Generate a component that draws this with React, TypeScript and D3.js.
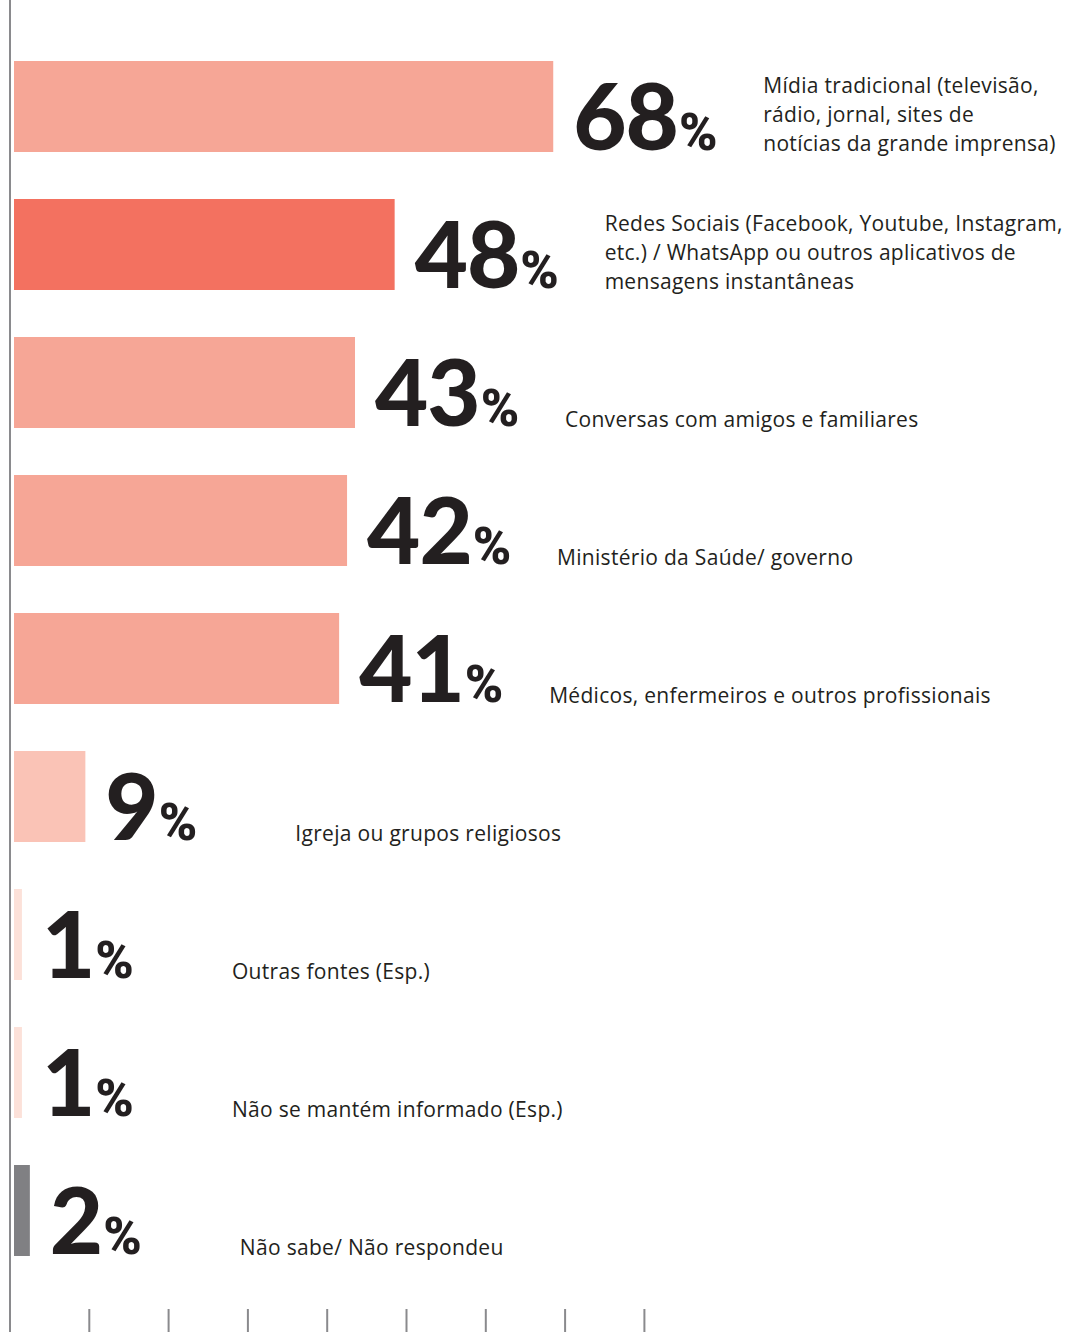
import { useEffect, useRef } from 'react'
import * as d3 from 'd3'

const CATEGORIES = [
  'midia',
  'redes',
  'conversas',
  'ministerio',
  'medicos',
  'igreja',
  'outras',
  'naoInformado',
  'naoSabe',
]

const VALUES = [68, 48, 43, 42, 41, 9, 1, 1, 2]

const LABELS: string[][] = [
  ['Mídia tradicional (televisão,', 'rádio, jornal, sites de', 'notícias da grande imprensa)'],
  ['Redes Sociais (Facebook, Youtube, Instagram,', 'etc.) / WhatsApp ou outros aplicativos de', 'mensagens instantâneas'],
  ['Conversas com amigos e familiares'],
  ['Ministério da Saúde/ governo'],
  ['Médicos, enfermeiros e outros profissionais'],
  ['Igreja ou grupos religiosos'],
  ['Outras fontes (Esp.)'],
  ['Não se mantém informado (Esp.)'],
  ['Não sabe/ Não respondeu'],
]

const TICKS = [10, 20, 30, 40, 50, 60, 70, 80]

const BAR_COLORS = [
  '#f6a696', '#f37160', '#f6a696', '#f6a696', '#f6a696',
  '#fac3b6', '#fce1d9', '#fce1d9', '#808083',
]

const W = 1078
const H = 1332
const AXIS_COLOR = '#8a8a8d'
const TEXT_COLOR = '#231f20'

export default function App() {
  const svgRef = useRef<SVGSVGElement>(null)

  useEffect(() => {
    if (!svgRef.current) return
    const svg = d3.select(svgRef.current)
    svg.selectAll('*').remove()

    const x = d3.scaleLinear().domain([0, 80]).range([10, 10 + 80 * 7.93])
    const y = d3.scaleBand<string>()
      .domain(CATEGORIES)
      .range([61, 1256])
      .paddingInner(0.3406)
      .paddingOuter(0)

    const barStart = x(0) + 4
    const rows = CATEGORIES.map((c, i) => ({ c, v: VALUES[i], lines: LABELS[i], color: BAR_COLORS[i] }))

    const g = svg.append('g')

    g.selectAll('rect.bar')
      .data(rows)
      .join('rect')
      .attr('class', 'bar')
      .attr('x', barStart)
      .attr('y', d => y(d.c)!)
      .attr('width', d => x(d.v) - x(0))
      .attr('height', y.bandwidth())
      .attr('fill', d => d.color)

    // axis line
    g.append('line')
      .attr('x1', x(0)).attr('x2', x(0))
      .attr('y1', 0).attr('y2', H)
      .attr('stroke', AXIS_COLOR).attr('stroke-width', 2)

    // bottom ticks
    g.selectAll('line.tick')
      .data(TICKS)
      .join('line')
      .attr('class', 'tick')
      .attr('x1', d => x(d)).attr('x2', d => x(d))
      .attr('y1', 1309).attr('y2', H)
      .attr('stroke', AXIS_COLOR).attr('stroke-width', 2)

    // big numbers
    const num = g.selectAll('text.num')
      .data(rows)
      .join('text')
      .attr('class', 'num')
      .attr('x', d => x(d.v) + 4 + 20)
      .attr('y', d => y(d.c)! + y.bandwidth() - 2)
      .attr('fill', TEXT_COLOR)
      .style('font-family', 'Lato, sans-serif')
      .style('font-weight', '900')
      .style('font-size', '92px')
      .style('letter-spacing', '-1px')
    num.append('tspan').text(d => String(d.v))
    num.append('tspan')
      .attr('dx', 1)
      .style('font-family', 'Roboto, sans-serif')
      .style('font-size', '52px')
      .style('letter-spacing', '-2px')
      .text('%')

    // category labels
    const lbl = g.selectAll('text.lbl')
      .data(rows)
      .join('text')
      .attr('class', 'lbl')
      .attr('fill', TEXT_COLOR)
      .style('font-family', '"Open Sans", sans-serif')
      .style('font-size', '21px')
      .style('letter-spacing', '0.3px')
    lbl.each(function (d) {
      const t = d3.select(this)
      const bottom = y(d.c)! + y.bandwidth()
      const n = d.lines.length
      d.lines.forEach((line, j) => {
        t.append('tspan')
          .attr('x', x(d.v) + 4 + 210)
          .attr('y', bottom - 1 - (n - 1 - j) * 29)
          .text(line)
      })
    })
  }, [])

  return (
    <svg
      ref={svgRef}
      width={W}
      height={H}
      style={{ position: 'absolute', left: 0, top: 0, background: '#fff' }}
    />
  )
}
